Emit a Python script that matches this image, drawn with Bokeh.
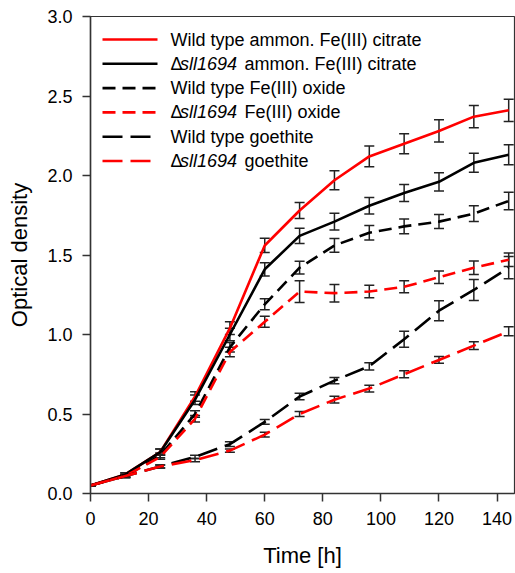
import numpy as np
from bokeh.plotting import figure
from bokeh.models import (ColumnDataSource, Whisker, TeeHead, Label, Arrow,
                          FixedTicker, NumeralTickFormatter, Range1d)
from bokeh.embed import file_html
from bokeh.resources import INLINE

# ---------------- data ----------------
time_h = [0, 12, 24, 36, 48, 60, 72, 84, 96, 108, 120, 132, 144]

wt_citrate = [0.05, 0.12, 0.26, 0.61, 1.04, 1.56, 1.78, 1.97, 2.12, 2.20, 2.28, 2.37, 2.41]
wt_citrate_err = [0.005, 0.01, 0.02, 0.03, 0.04, 0.045, 0.05, 0.06, 0.065, 0.063, 0.07, 0.07, 0.07]
d_citrate = [0.05, 0.12, 0.26, 0.59, 1.00, 1.41, 1.62, 1.71, 1.81, 1.89, 1.96, 2.08, 2.13]
d_citrate_err = [0.005, 0.01, 0.02, 0.03, 0.04, 0.042, 0.048, 0.052, 0.052, 0.054, 0.058, 0.06, 0.063]
wt_oxide = [0.05, 0.11, 0.24, 0.50, 0.92, 1.19, 1.42, 1.56, 1.64, 1.68, 1.71, 1.76, 1.84]
wt_oxide_err = [0.005, 0.01, 0.015, 0.02, 0.03, 0.035, 0.04, 0.043, 0.045, 0.047, 0.044, 0.049, 0.055]
d_oxide = [0.05, 0.11, 0.23, 0.47, 0.89, 1.08, 1.27, 1.26, 1.27, 1.30, 1.36, 1.42, 1.47]
d_oxide_err = [0.005, 0.01, 0.015, 0.02, 0.03, 0.035, 0.068, 0.055, 0.039, 0.038, 0.04, 0.042, 0.043]
wt_goethite = [0.05, 0.11, 0.17, 0.23, 0.31, 0.45, 0.61, 0.71, 0.80, 0.97, 1.15, 1.28, 1.42]
wt_goethite_err = [0.005, 0.01, 0.01, 0.01, 0.015, 0.015, 0.02, 0.02, 0.023, 0.05, 0.063, 0.066, 0.07]
d_goethite = [0.05, 0.11, 0.17, 0.21, 0.27, 0.37, 0.50, 0.59, 0.66, 0.75, 0.84, 0.93, 1.02]
d_goethite_err = [0.005, 0.01, 0.01, 0.01, 0.01, 0.015, 0.016, 0.021, 0.021, 0.022, 0.021, 0.025, 0.028]

x_ticks = [0, 20, 40, 60, 80, 100, 120, 140]
y_ticks = [0.0, 0.5, 1.0, 1.5, 2.0, 2.5, 3.0]

# legend rows: list of (segments, color, dash); segments are (text, italic?)
legend_rows = [
    ([("Wild type ammon. Fe(III) citrate", False)], "red", "solid"),
    ([("\u0394", False), ("sll1694", True), ("ammon. Fe(III) citrate", False)], "black", "solid"),
    ([("Wild type Fe(III) oxide", False)], "black", "13 7"),
    ([("\u0394", False), ("sll1694", True), ("Fe(III) oxide", False)], "red", "13 7"),
    ([("Wild type goethite", False)], "black", "20 8"),
    ([("\u0394", False), ("sll1694", True), ("goethite", False)], "red", "20 8"),
]

series = [
    (wt_citrate, wt_citrate_err, "red", "solid"),
    (d_citrate, d_citrate_err, "black", "solid"),
    (wt_oxide, wt_oxide_err, "black", "13 7"),
    (d_oxide, d_oxide_err, "red", "13 7"),
    (wt_goethite, wt_goethite_err, "black", "20 8"),
    (d_goethite, d_goethite_err, "red", "20 8"),
]

FONT = "Liberation Sans"

p = figure(width=515, height=573, output_backend="svg", toolbar_location=None,
           x_range=Range1d(0, 146), y_range=Range1d(0, 3.0),
           min_border_left=90, min_border_right=1, min_border_top=16, min_border_bottom=80)
p.background_fill_color = "white"
p.border_fill_color = "white"
p.outline_line_color = "#333333"
p.outline_line_width = 1.2
p.xgrid.visible = False
p.ygrid.visible = False

for ax in (p.xaxis[0], p.yaxis[0]):
    ax.axis_line_color = "#333333"
    ax.axis_line_width = 1.5
    ax.major_tick_line_color = "#333333"
    ax.major_tick_line_width = 1.5
    ax.major_tick_in = 0
    ax.major_tick_out = 8
    ax.minor_tick_line_color = None
    ax.major_label_text_font = FONT
    ax.major_label_text_font_size = "18px"
    ax.major_label_text_color = "black"
    ax.axis_label_text_font = FONT
    ax.axis_label_text_font_size = "22px"
    ax.axis_label_text_font_style = "normal"
    ax.axis_label_text_color = "black"

p.xaxis.ticker = FixedTicker(ticks=x_ticks)
p.yaxis.ticker = FixedTicker(ticks=y_ticks)
p.yaxis.formatter = NumeralTickFormatter(format="0.0")
p.xaxis.axis_label = "Time [h]"
p.yaxis.axis_label = "Optical density"
p.xaxis.major_label_standoff = 10
p.yaxis.major_label_standoff = 10
p.xaxis.axis_label_standoff = 15
p.yaxis.axis_label_standoff = 12

for vals, errs, color, dash in series:
    p.line(time_h, vals, line_color=color, line_width=2.6, line_dash=dash)

for vals, errs, color, dash in series:
    v = np.array(vals)
    e = np.array(errs)
    src = ColumnDataSource(dict(x=time_h, upper=v + e, lower=v - e))
    w = Whisker(base="x", upper="upper", lower="lower", source=src,
                line_color="#222222", line_width=1.5,
                upper_head=TeeHead(size=10, line_color="#222222", line_width=1.5),
                lower_head=TeeHead(size=10, line_color="#222222", line_width=1.5))
    p.add_layout(w)

# legend (screen units relative to plot frame)
row_y0 = 454
row_step = 24.3
line_x0, line_x1 = 12, 67
text_x = 80
delta_w = 9.5
rest_x = 154
for i, (segs, color, dash) in enumerate(legend_rows):
    y = row_y0 - i * row_step
    p.add_layout(Arrow(start=None, end=None, x_start=line_x0, x_end=line_x1,
                       y_start=y, y_end=y, start_units="screen", end_units="screen",
                       line_color=color, line_width=2.6, line_dash=dash))
    if len(segs) == 1:
        xs = [text_x]
    else:
        xs = [text_x, text_x + delta_w, rest_x]
    for (txt, ital), xx in zip(segs, xs):
        p.add_layout(Label(x=xx, y=y, x_units="screen", y_units="screen", text=txt,
                           text_font=FONT, text_font_size="18px",
                           text_font_style="italic" if ital else "normal",
                           text_color="black", text_baseline="middle", text_align="left"))

open("out.html", "w").write(file_html(p, INLINE))
